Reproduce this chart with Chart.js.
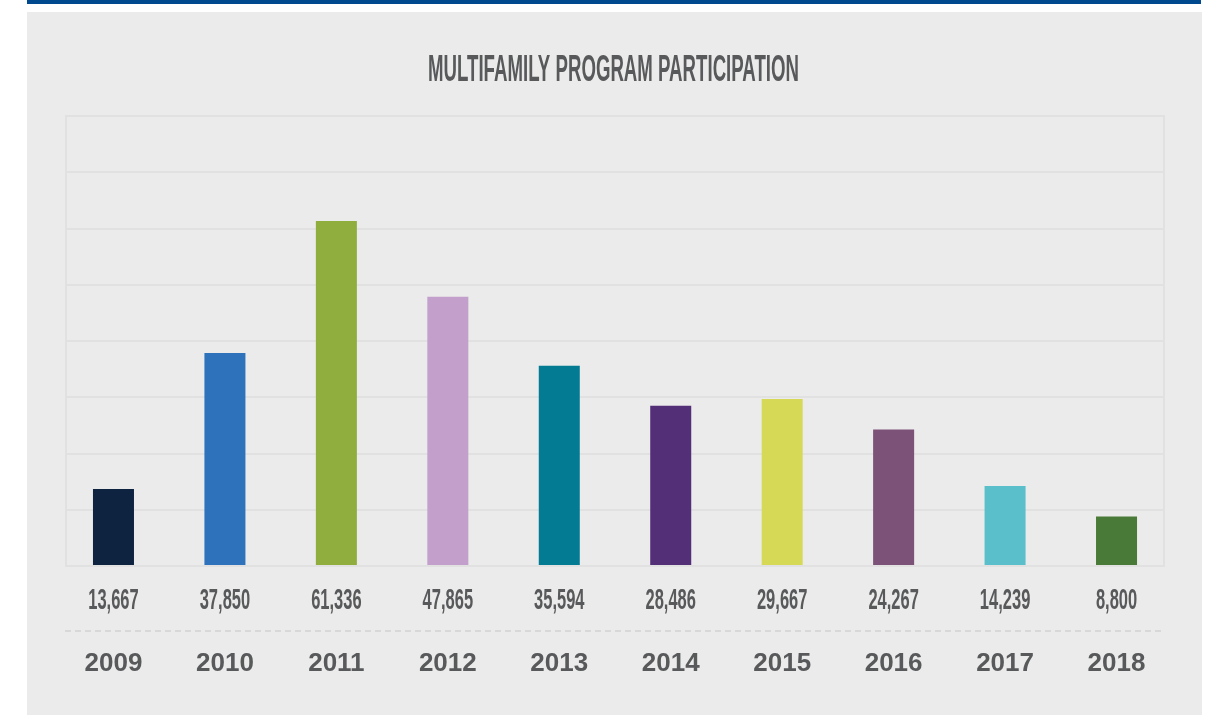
<!DOCTYPE html>
<html lang="en">
<head>
  <meta charset="UTF-8">
  <script src="https://cdn.jsdelivr.net/npm/chart.js"></script>
  <title>Multifamily Program Participation</title>
  <style>
    body{margin: 0; background: #fff;}
    #topbar{position: absolute; left: 27px; top: 0; width: 1174px; height: 4px; background: #00498f;}
    #wrap{position: absolute; left: 27px; top: 12px; width: 1175px; height: 703px; background: #ebebeb;}
  </style>
</head>
<body>
  <div id="topbar"></div>
  <div id="wrap">
    <canvas id="myChart" width="1175" height="703"></canvas>
  </div>
  <script>
    // data
    const years = ['2009', '2010', '2011', '2012', '2013', '2014', '2015', '2016', '2017', '2018'];
    const participants = [13667, 37850, 61336, 47865, 35594, 28486, 29667, 24267, 14239, 8800];
    const barColors = ['#0e2340', '#2e72bb', '#8fae3e', '#c39fcb', '#037c93', '#532f77', '#d6d956', '#7c5279', '#5abfca', '#4a7a37'];
    const yMax = 80000;
    const yStep = 10000;

    const gridColor = '#e1e1e1';
    const textColor = '#58595b';

    // title, value row, dashed rule and year row
    const labelsPlugin = {
      id: 'labels',
      beforeDatasetsDraw(chart){
        const {ctx, chartArea} = chart;
        ctx.save();
        ctx.strokeStyle = gridColor;
        ctx.lineWidth = 2;
        ctx.strokeRect(chartArea.left, chartArea.top, chartArea.right - chartArea.left, chartArea.bottom - chartArea.top);
        ctx.restore();
      },
      afterDraw(chart){
        const {ctx, chartArea} = chart;
        const xs = chart.scales.x;
        ctx.save();
        ctx.fillStyle = textColor;
        ctx.textAlign = 'center';
        ctx.textBaseline = 'alphabetic';

        // title (condensed by squeezing)
        const title = 'MULTIFAMILY PROGRAM PARTICIPATION';
        ctx.font = 'bold 37px "Liberation Sans"';
        let w = ctx.measureText(title).width;
        let sx = 371 / w;
        ctx.save();
        ctx.translate((chart.width) / 2 - 1, 69);
        ctx.scale(sx, 1);
        ctx.fillText(title, 0, 0);
        ctx.restore();

        // values
        ctx.font = 'bold 30px "Liberation Sans"';
        participants.forEach((v, i) => {
          const x = xs.getPixelForValue(i);
          ctx.save();
          ctx.translate(x, 597);
          ctx.scale(0.55, 1);
          ctx.fillText(v.toLocaleString('en-US'), 0, 0);
          ctx.restore();
        });

        // dashed rule
        ctx.strokeStyle = '#d8d8d8';
        ctx.lineWidth = 2;
        ctx.setLineDash([6, 4]);
        ctx.beginPath();
        ctx.moveTo(chartArea.left - 1, 619);
        ctx.lineTo(chartArea.right + 1, 619);
        ctx.stroke();
        ctx.setLineDash([]);

        // years
        ctx.font = 'bold 26px "Liberation Sans"';
        years.forEach((y, i) => {
          ctx.fillText(y, xs.getPixelForValue(i), 659);
        });
        ctx.restore();
      }
    };

    const ctx = document.getElementById('myChart');

    new Chart(ctx, {
      type: 'bar',
      data: {
        datasets: [{
          label: 'Participants',
          data: participants.map((v, i) => ({x: i, y: v})),
          backgroundColor: barColors,
          borderWidth: 0,
          barPercentage: 0.368,
          categoryPercentage: 1
        }]
      },
      options: {
        responsive: false,
        animation: false,
        layout: {
          padding: {left: 39, right: 38, top: 104, bottom: 149}
        },
        plugins: {
          legend: {display: false},
          tooltip: {enabled: false}
        },
        scales: {
          x: {
            type: 'linear',
            min: -0.426,
            max: years.length - 1 + 0.426,
            offset: false,
            ticks: {display: false},
            grid: {display: false, drawTicks: false},
            border: {display: false}
          },
          y: {
            min: 0,
            max: yMax,
            ticks: {display: false, stepSize: yStep},
            grid: {color: gridColor, lineWidth: 2, drawTicks: false},
            border: {display: false}
          }
        }
      },
      plugins: [labelsPlugin]
    });
  </script>
</body>
</html>
